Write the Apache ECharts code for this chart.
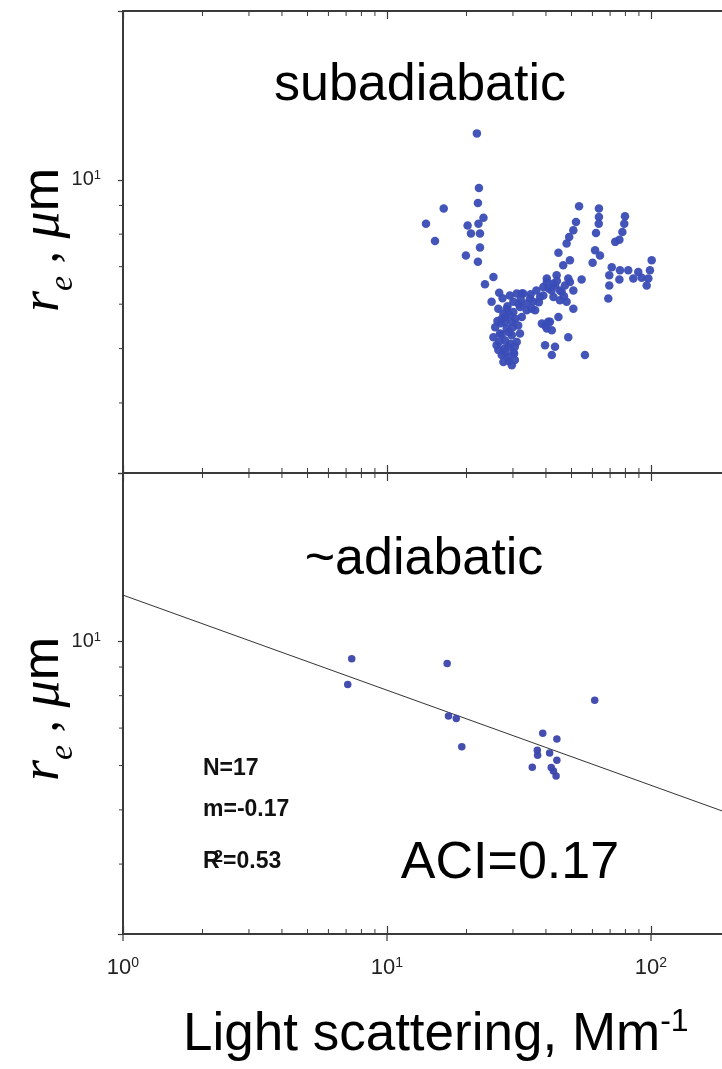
<!DOCTYPE html>
<html>
<head>
<meta charset="utf-8">
<script src="https://cdn.jsdelivr.net/npm/echarts@6/dist/echarts.min.js"></script>
<style>
html,body{margin:0;padding:0;background:#fff;}
#c{width:722px;height:1069px;}
</style>
</head>
<body>
<div id="c"></div>
<script>
// ---- data ----
var subX = [21.9,22.3,22.1,16.4,14.05,23.2,20.2,22.2,20.8,22.5,15.2,22.5,19.9,22.1,25.3,23.5,26.6,
  53.4,63.5,63.5,79.7,52.0,63.4,79.2,50.8,61.9,77.9,49.0,75.9,73.2,47.9,61.4,44.6,64.1,49.3,60.1,100.6,
  46.5,71.0,76.3,82.0,89.5,99.1,97.7,69.5,75.9,85.7,92.2,96.3,69.5,54.6,43.9,40.3,39.1,42.7,45.2,47.2,
  49.3,50.8,68.9,42.7,38.0,34.8,45.2,47.9,50.8,33.8,32.4,36.4,44.6,41.4,39.7,42.1,48.6,39.7,43.3,42.1,56.2,
  24.9,26.4,27.2,25.7,25.3,26.0,27.2,27.6,29.7,30.5,30.1,28.8,31.0,31.9,29.7,28.4,28.0,29.7,31.4,32.4,
  30.1,28.4,30.1,31.0,32.8,33.8,35.3,31.9,29.2,27.6,26.8,28.0,26.4,28.8,30.5,35.8,38.6,40.8,40.3,40.3,
  43.3,45.9,39.1,48.6,
  27.0,28.2,29.0,26.6,27.8,29.4,30.6,28.6,27.4,29.9,31.6,26.2,28.0,30.3,32.1,29.1,27.2,28.9,
  35.0,36.8,41.0,44.0,46.8,42.0,37.6];
var subY = [12.1,9.67,9.09,8.89,8.35,8.56,8.29,8.35,8.02,8.02,7.78,7.57,7.33,7.14,6.71,6.51,6.29,
  8.97,8.89,8.58,8.61,8.41,8.35,8.35,8.13,8.04,8.07,7.91,7.82,7.75,7.70,7.49,7.41,7.33,7.19,7.11,7.19,
  7.04,6.98,6.90,6.90,6.85,6.90,6.67,6.76,6.64,6.67,6.69,6.48,6.48,6.64,6.76,6.67,6.44,6.53,6.35,6.48,
  6.57,6.35,6.14,6.18,6.18,6.14,6.10,6.06,5.89,6.02,6.27,5.85,5.69,5.58,5.50,5.39,5.24,5.07,5.04,4.87,4.87,
  6.06,5.89,5.65,5.46,5.24,5.07,4.87,4.73,4.67,4.77,4.93,5.04,5.14,5.32,5.28,5.43,5.58,5.58,5.50,5.69,
  5.81,5.89,6.06,6.27,6.27,5.85,5.89,5.93,6.22,5.77,5.32,5.17,4.97,4.83,5.04,6.06,5.54,5.58,5.43,6.57,
  6.48,6.31,6.22,6.67,
  5.55,5.70,5.35,5.15,5.00,5.10,5.65,5.95,6.15,5.45,6.00,5.60,4.92,4.90,6.12,5.75,5.30,4.75,
  6.25,6.35,6.40,6.60,6.20,6.35,6.05];
var adiX = [7.35,7.10,16.9,17.1,18.3,19.2,61.2,38.9,44.0,37.1,37.2,41.3,44.0,35.5,41.9,42.7,43.7];
var adiY = [9.31,8.38,9.13,7.36,7.28,6.48,7.85,6.85,6.69,6.39,6.26,6.32,6.13,5.96,5.95,5.87,5.75];
var fitX = [1, 1000];
var fitY = [12.1, 3.74];
var majorX = [1, 10, 100];
var minorX = [2,3,4,5,6,7,8,9,20,30,40,50,60,70,80,90,200,300,400,500,600,700,800,900];
var minorY = [4,5,6,7,8,9];
var xTickLabels = {1:'0', 10:'1', 100:'2'};
var yTickLabels = {10:'1'};
var panelTitles = ['subadiabatic', '~adiabatic'];
var stats = ['N=17', 'm=-0.17', '0.53'];
var aciText = 'ACI=0.17';

// ---- chart ----
var AX = '#3a3a3a';
var FONT = "'Liberation Sans', Arial, sans-serif";
var chart = echarts.init(document.getElementById('c'), null, {renderer:'canvas'});

function pairs(xs, ys){ return xs.map(function(v,i){ return [v, ys[i]]; }); }

var xTickRich = {
  b:{fontSize:22, fontFamily:FONT, color:'#222', lineHeight:24},
  s:{fontSize:14, fontFamily:FONT, color:'#222', verticalAlign:'top', lineHeight:14}
};
var yTickRich = {
  b:{fontSize:20, fontFamily:"'Liberation Sans Narrow', "+FONT, color:'#222', lineHeight:22},
  s:{fontSize:13, fontFamily:"'Liberation Sans Narrow', "+FONT, color:'#222', verticalAlign:'top', lineHeight:13}
};

function xAxisCfg(g, pos, showLabel){
  return {
    gridIndex:g, type:'log', logBase:10, min:1, max:1000, position:pos,
    axisLine:{show:false},
    axisTick:{show:true, inside:true, length:8, lineStyle:{color:AX, width:1.2}},
    splitLine:{show:false},
    axisLabel:{
      show:showLabel, margin:22, color:'#222', fontFamily:FONT,
      formatter:function(v){ var k=Math.round(v); return xTickLabels[k]!==undefined ? '{b|10}{s|'+xTickLabels[k]+'}' : ''; },
      rich:xTickRich
    }
  };
}
function yAxisCfg(g){
  return {
    gridIndex:g, type:'log', logBase:10, min:3, max:20,
    axisLine:{show:false},
    axisTick:{show:true, inside:false, length:5, lineStyle:{color:AX, width:1.2}},
    splitLine:{show:false},
    axisLabel:{
      margin:22, color:'#222',
      formatter:function(v){ var k=Math.round(v); return (Math.abs(v-10)<1e-6 && yTickLabels[k]) ? '{b|10}{s|'+yTickLabels[k]+'}' : ''; },
      rich:yTickRich
    }
  };
}

function minorXSeries(g){
  return {
    type:'custom', xAxisIndex:g*2, yAxisIndex:g, silent:true, clip:false, z:5,
    data: minorX.map(function(v){ return [v, 3]; }),
    renderItem:function(params, api){
      var v = api.value(0);
      var b = api.coord([v, 3]), t = api.coord([v, 20]);
      return {type:'group', children:[
        {type:'line', shape:{x1:b[0], y1:b[1], x2:b[0], y2:b[1]-5}, style:{stroke:AX, lineWidth:1}},
        {type:'line', shape:{x1:t[0], y1:t[1], x2:t[0], y2:t[1]+5}, style:{stroke:AX, lineWidth:1}}
      ]};
    }
  };
}
function majorOutSeries(g){
  return {
    type:'custom', xAxisIndex:g*2, yAxisIndex:g, silent:true, clip:false, z:5,
    data: majorX.map(function(v){ return [v, 3]; }),
    renderItem:function(params, api){
      var b = api.coord([api.value(0), 3]);
      return {type:'line', shape:{x1:b[0], y1:b[1], x2:b[0], y2:b[1]+7}, style:{stroke:AX, lineWidth:1.2}};
    }
  };
}
function minorYSeries(g){
  return {
    type:'custom', xAxisIndex:g*2, yAxisIndex:g, silent:true, clip:false, z:5,
    data: minorY.map(function(v){ return [1, v]; }),
    renderItem:function(params, api){
      var p = api.coord([1, api.value(1)]);
      return {type:'line', shape:{x1:p[0]-4, y1:p[1], x2:p[0], y2:p[1]}, style:{stroke:AX, lineWidth:1}};
    }
  };
}

var yTitle = '{r|r}{e|e}{c| , }{mu|\u03bc}{m|m}';
var yTitleRich = {
  r:{fontFamily:"'Liberation Serif', 'DejaVu Serif', serif", fontStyle:'italic', fontSize:54, color:'#000', lineHeight:60},
  e:{fontFamily:"'Liberation Serif', 'DejaVu Serif', serif", fontStyle:'italic', fontSize:34, color:'#000', verticalAlign:'bottom', lineHeight:60, padding:[0,0,-6,0]},
  c:{fontFamily:"'Liberation Serif', serif", fontSize:50, color:'#000', lineHeight:60},
  mu:{fontFamily:"'Liberation Serif', 'DejaVu Serif', serif", fontStyle:'italic', fontSize:54, color:'#000', lineHeight:60},
  m:{fontFamily:FONT, fontSize:52, color:'#000', lineHeight:60}
};

var option = {
  backgroundColor:'#fff',
  animation:false,
  grid:[
    {left:123, top:11, width:792, height:462, show:true, borderColor:AX, borderWidth:2, backgroundColor:'transparent', outerBoundsMode:'none', containLabel:false},
    {left:123, top:473, width:792, height:461, show:true, borderColor:AX, borderWidth:2, backgroundColor:'transparent', outerBoundsMode:'none', containLabel:false}
  ],
  xAxis:[ xAxisCfg(0,'bottom',false), xAxisCfg(0,'top',false), xAxisCfg(1,'bottom',true), xAxisCfg(1,'top',false) ],
  yAxis:[ yAxisCfg(0), yAxisCfg(1) ],
  series:[
    {type:'scatter', xAxisIndex:0, yAxisIndex:0, data:pairs(subX, subY), symbol:'circle', symbolSize:8.5,
     itemStyle:{color:'#3a4cb6', opacity:0.95}, z:3},
    {type:'scatter', xAxisIndex:2, yAxisIndex:1, data:pairs(adiX, adiY), symbol:'circle', symbolSize:7.5,
     itemStyle:{color:'#3b45aa', opacity:0.95}, z:3},
    {type:'line', xAxisIndex:2, yAxisIndex:1, data:pairs(fitX, fitY), symbol:'none', clip:true,
     lineStyle:{color:'#333', width:1}, z:2},
    minorXSeries(0), minorXSeries(1), minorYSeries(0), minorYSeries(1), majorOutSeries(1)
  ],
  graphic:[
    {type:'text', x:420, y:86, style:{text:panelTitles[0], font:"52px "+FONT, fill:'#000', textAlign:'center', textVerticalAlign:'middle'}},
    {type:'text', x:424, y:560, style:{text:panelTitles[1], font:"52px "+FONT, fill:'#000', textAlign:'center', textVerticalAlign:'middle'}},
    {type:'text', x:510, y:864, style:{text:aciText, font:"52px "+FONT, fill:'#000', textAlign:'center', textVerticalAlign:'middle'}},
    {type:'text', x:203, y:769, style:{text:stats[0], font:"bold 23px 'Liberation Sans Narrow', "+FONT, fill:'#111', textAlign:'left', textVerticalAlign:'middle'}},
    {type:'text', x:203, y:810, style:{text:stats[1], font:"bold 23px 'Liberation Sans Narrow', "+FONT, fill:'#111', textAlign:'left', textVerticalAlign:'middle'}},
    {type:'text', x:203, y:862, style:{
      text:'{a|R}{s|2}{a|=' + stats[2] + '}', textAlign:'left', textVerticalAlign:'middle',
      rich:{a:{font:"bold 23px 'Liberation Sans Narrow', "+FONT, fill:'#111', lineHeight:26},
            s:{font:"bold 17px 'Liberation Sans Narrow', "+FONT, fill:'#111', verticalAlign:'top', lineHeight:14, padding:[0,0,0,-6]}}}},
    {type:'text', x:44, y:240, rotation:Math.PI/2, style:{text:yTitle, rich:yTitleRich, textAlign:'center', textVerticalAlign:'middle'}},
    {type:'text', x:44, y:709, rotation:Math.PI/2, style:{text:yTitle, rich:yTitleRich, textAlign:'center', textVerticalAlign:'middle'}},
    {type:'text', x:183, y:1035, style:{
      text:'{t|Light scattering, Mm}{s|-1}', textAlign:'left', textVerticalAlign:'middle',
      rich:{t:{font:"53px "+FONT, fill:'#000', lineHeight:58}, s:{font:"32px "+FONT, fill:'#000', verticalAlign:'top', lineHeight:30}}}}
  ]
};
chart.setOption(option);
</script>
</body>
</html>
